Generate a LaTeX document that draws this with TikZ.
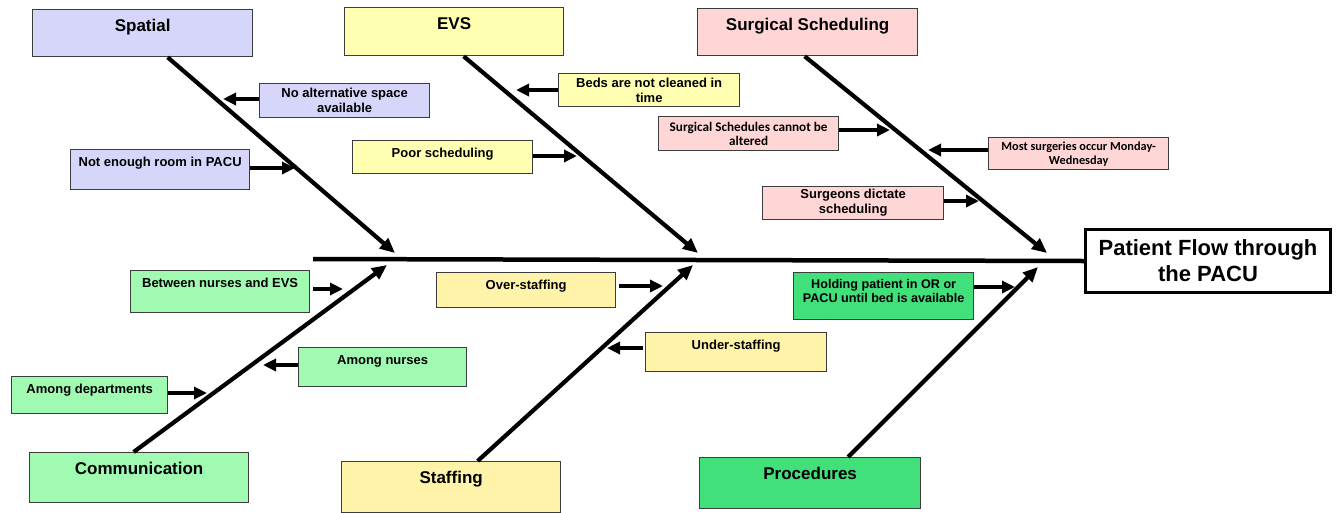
\documentclass[tikz,border=0pt]{standalone}
\usepackage{fontspec}
\setmainfont{Liberation Sans}
\newfontfamily\carlito{Carlito}
\usetikzlibrary{arrows.meta}
\definecolor{spatialfill}{RGB}{214,214,250}
\definecolor{evsfill}{RGB}{255,255,178}
\definecolor{surgfill}{RGB}{255,214,214}
\definecolor{commfill}{RGB}{160,250,178}
\definecolor{stafffill}{RGB}{255,243,170}
\definecolor{procfill}{RGB}{66,224,122}
\definecolor{edge}{RGB}{60,60,60}
\begin{document}
\begin{tikzpicture}[x=1pt,y=-1pt,
  cat/.style={draw=edge, line width=1.3pt, inner sep=0pt, anchor=north west,
    font=\fontsize{17}{20}\selectfont\bfseries, text height=22pt},
  onebox/.style={draw=edge, line width=1.3pt, inner sep=0pt, anchor=north west,
    font=\fontsize{13}{15}\selectfont\bfseries, text height=16.5pt},
  twobox/.style={draw=edge, line width=1.3pt, inner xsep=2pt, inner ysep=0pt,
    anchor=north west, align=center, font=\fontsize{13}{15}\selectfont\bfseries},
  narrowbox/.style={twobox, font=\carlito\fontsize{13.2}{14}\selectfont\bfseries},
  bone/.style={line width=4.2pt, -{Triangle[length=15pt,width=13pt]}},
  cause/.style={line width=4pt, -{Triangle[length=13pt,width=12pt]}},
  spine/.style={line width=4.5pt}]
\useasboundingbox (0,0) rectangle (1338,512);

% effect and spine
\node[draw=black, line width=3pt, fill=white, minimum width=245pt, minimum height=63pt,
  anchor=north west, align=center, inner sep=0pt,
  font=\fontsize{22}{26}\selectfont\bfseries] (head) at (1084,228)
  {Patient Flow through\\the PACU};
\coordinate (tail) at (313,259);
\draw[spine] (tail) -- (head.west);

% category boxes
\node[cat, fill=spatialfill, minimum width=220pt, text depth=25pt] (spatial) at (32,9) {Spatial};
\node[cat, fill=evsfill, minimum width=219pt, text depth=26pt] (evs) at (344,7) {EVS};
\node[cat, fill=surgfill, minimum width=220pt, text depth=25pt] (surg) at (697,8) {Surgical Scheduling};
\node[cat, fill=commfill, minimum width=219pt, text depth=28pt] (comm) at (29,452) {Communication};
\node[cat, fill=stafffill, minimum width=219pt, text depth=29pt] (staff) at (341,461) {Staffing};
\node[cat, fill=procfill, minimum width=221pt, text depth=29pt] (proc) at (699,457) {Procedures};

% bone tips on the spine
\coordinate (spatialtip) at (395,253);
\coordinate (evstip) at (698,253);
\coordinate (surgtip) at (1047,253);
\coordinate (commtip) at (387,265);
\coordinate (stafftip) at (693,265);
\coordinate (proctip) at (1038,267);

\draw[bone] ([xshift=25pt]spatial.south) -- (spatialtip);
\draw[bone] ([xshift=9.5pt]evs.south) -- (evstip);
\draw[bone] ([xshift=-3pt]surg.south) -- (surgtip);
\draw[bone] ([xshift=-5.5pt]comm.north) -- (commtip);
\draw[bone] ([xshift=26.5pt]staff.north) -- (stafftip);
\draw[bone] ([xshift=38pt]proc.north) -- (proctip);

% Spatial causes
\node[twobox, fill=spatialfill, minimum width=170pt, minimum height=34pt] (noalt) at (259,83)
  {No alternative space\\available};
\node[onebox, fill=spatialfill, minimum width=179pt, text depth=23.5pt] (notroom) at (70,149)
  {Not enough room in PACU};
\coordinate (noalttip) at (223,99);
\coordinate (notroomtip) at (295,168);
\draw[cause] (noalttip -| noalt.west) -- (noalttip);
\draw[cause] (notroomtip -| notroom.east) -- (notroomtip);

% EVS causes
\node[twobox, fill=evsfill, minimum width=181pt, minimum height=33pt] (beds) at (558,73)
  {Beds are not cleaned in\\time};
\node[onebox, fill=evsfill, minimum width=180pt, text depth=16.5pt] (poor) at (352,140)
  {Poor scheduling};
\coordinate (bedstip) at (516,90);
\coordinate (poortip) at (577,156);
\draw[cause] (bedstip -| beds.west) -- (bedstip);
\draw[cause] (poortip -| poor.east) -- (poortip);

% Surgical scheduling causes
\node[narrowbox, fill=surgfill, minimum width=180pt, minimum height=34pt] (altered) at (658,116)
  {Surgical Schedules cannot be\\altered};
\node[narrowbox, fill=surgfill, minimum width=180pt, minimum height=32pt,
  font=\carlito\fontsize{12.3}{14}\selectfont\bfseries] (mostsurg) at (988,137)
  {Most surgeries occur Monday-\\Wednesday};
\node[twobox, fill=surgfill, minimum width=181pt, minimum height=33pt] (dictate) at (762,186)
  {Surgeons dictate\\scheduling};
\coordinate (alteredtip) at (890,130);
\coordinate (mosttip) at (928,150);
\coordinate (dictatetip) at (979,201);
\draw[cause] (alteredtip -| altered.east) -- (alteredtip);
\draw[cause] (mosttip -| mostsurg.west) -- (mosttip);
\draw[cause] (dictatetip -| dictate.east) -- (dictatetip);

% Communication causes
\node[onebox, fill=commfill, minimum width=179pt, text depth=25.5pt] (between) at (130,270)
  {Between nurses and EVS};
\node[onebox, fill=commfill, minimum width=168pt, text depth=22.5pt] (amnurses) at (298,347)
  {Among nurses};
\node[onebox, fill=commfill, minimum width=156pt, text depth=20.5pt] (amdept) at (11,376)
  {Among departments};
\coordinate (betweentip) at (343,289);
\coordinate (amnursestip) at (263,365);
\coordinate (amdepttip) at (207,393);
\draw[cause, shorten <=3pt] (betweentip -| between.east) -- (betweentip);
\draw[cause] (amnursestip -| amnurses.west) -- (amnursestip);
\draw[cause] (amdepttip -| amdept.east) -- (amdepttip);

% Staffing causes
\node[onebox, fill=stafffill, minimum width=179pt, text depth=18.5pt] (over) at (436,272)
  {Over-staffing};
\node[onebox, fill=stafffill, minimum width=181pt, text depth=22.5pt] (under) at (645,332)
  {Under-staffing};
\coordinate (overtip) at (663,286);
\coordinate (undertip) at (607,348);
\draw[cause, shorten <=3pt] (overtip -| over.east) -- (overtip);
\draw[cause, shorten <=2pt] (undertip -| under.west) -- (undertip);

% Procedures cause: two lines set high in the box
\node[onebox, fill=procfill, minimum width=180pt, text height=15.5pt, text depth=31.5pt,
  font=\fontsize{12.6}{14}\selectfont\bfseries] (holding) at (793,272)
  {\begin{tabular}[t]{@{}c@{}}Holding patient in OR or\\PACU until bed is available\end{tabular}};
\coordinate (holdingtip) at (1015,287);
\draw[cause] (holdingtip -| holding.east) -- (holdingtip);
\end{tikzpicture}
\end{document}
